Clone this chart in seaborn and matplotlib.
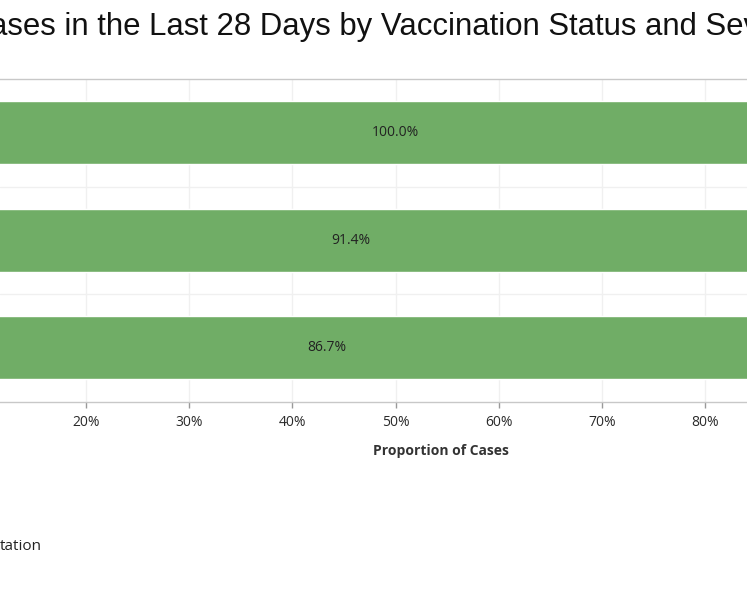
import matplotlib
matplotlib.use("Agg")
import matplotlib.pyplot as plt
import seaborn as sns
import pandas as pd

# ---- data ----
statuses = ["Unvaccinated", "Partially Vaccinated", "Fully Vaccinated"]
no_hosp_pct = [100.0, 91.4, 86.7]
hosp_pct = [0.0, 8.6, 13.3]
tick_values = [10, 20, 30, 40, 50, 60, 70, 80, 90]
tick_labels = [f"{v}%" for v in tick_values]
title_text = "Cases in the Last 28 Days by Vaccination Status and Severity"
legend_text = "tation"
xlabel_text = "Proportion of Cases"

GREEN = "#70ad66"
ORANGE = "#e8a33d"

sns.set_theme(style="white")
plt.rcParams['font.family'] = ['Open Sans', 'DejaVu Sans']

df = pd.DataFrame({"status": statuses, "no_hosp": no_hosp_pct, "hosp": hosp_pct})
df["total"] = df["no_hosp"] + df["hosp"]

W, H = 747, 598
fig = plt.figure(figsize=(W / 100, H / 100), dpi=100)
ax = fig.add_axes([0, 1 - 401.5 / H, 1, (401.5 - 79) / H])

sns.barplot(data=df, y="status", x="total", color=ORANGE, saturation=1,
            width=0.59, errorbar=None, orient="h", ax=ax)
sns.barplot(data=df, y="status", x="no_hosp", color=GREEN, saturation=1,
            width=0.59, errorbar=None, orient="h", ax=ax)

for i, v in enumerate(df["no_hosp"]):
    ax.text(v / 2, i, f"{v:.1f}%", ha="center", va="center",
            fontsize=10, color="#222222")

ax.set_xticks(tick_values)
ax.set_xticklabels(tick_labels)
ax.set_yticks(range(len(statuses)))
ax.set_yticklabels([])  # category names lie outside the visible crop
ax.set_yticks([0.5, 1.5], minor=True)
ax.set_xlim(11.66, 84.05)
ax.set_ylim(2.5, -0.5)
ax.set_ylabel("")
ax.set_xlabel(xlabel_text, fontsize=10, fontweight="bold", color="#333333")
ax.xaxis.set_label_coords(441 / W, -(444 - 401.5) / (401.5 - 79))

ax.set_axisbelow(True)
ax.xaxis.grid(True, which="major", color="#f0f0f0", lw=1)
ax.yaxis.grid(True, which="minor", color="#f0f0f0", lw=1)
ax.yaxis.grid(False, which="major")

for s in ["left", "right"]:
    ax.spines[s].set_visible(False)
for s in ["top", "bottom"]:
    ax.spines[s].set_color("#c8c8c8")
    ax.spines[s].set_linewidth(1)

ax.tick_params(axis="x", bottom=True, length=4, width=1, color="#999999",
               pad=6, labelsize=10, labelcolor="#2a2a2a")
ax.tick_params(axis="y", which="both", left=False, labelsize=10)

fig.text(-10 / W, 1 - 35 / H, title_text[1:], fontsize=22.4,
         family=["Liberation Sans", "DejaVu Sans"], color="#111111",
         ha="left", va="baseline")
fig.text(0 / W, 1 - 546 / H, legend_text, fontsize=11, color="#222222",
         ha="left", va="center")

fig.savefig("out.png", dpi=100)
